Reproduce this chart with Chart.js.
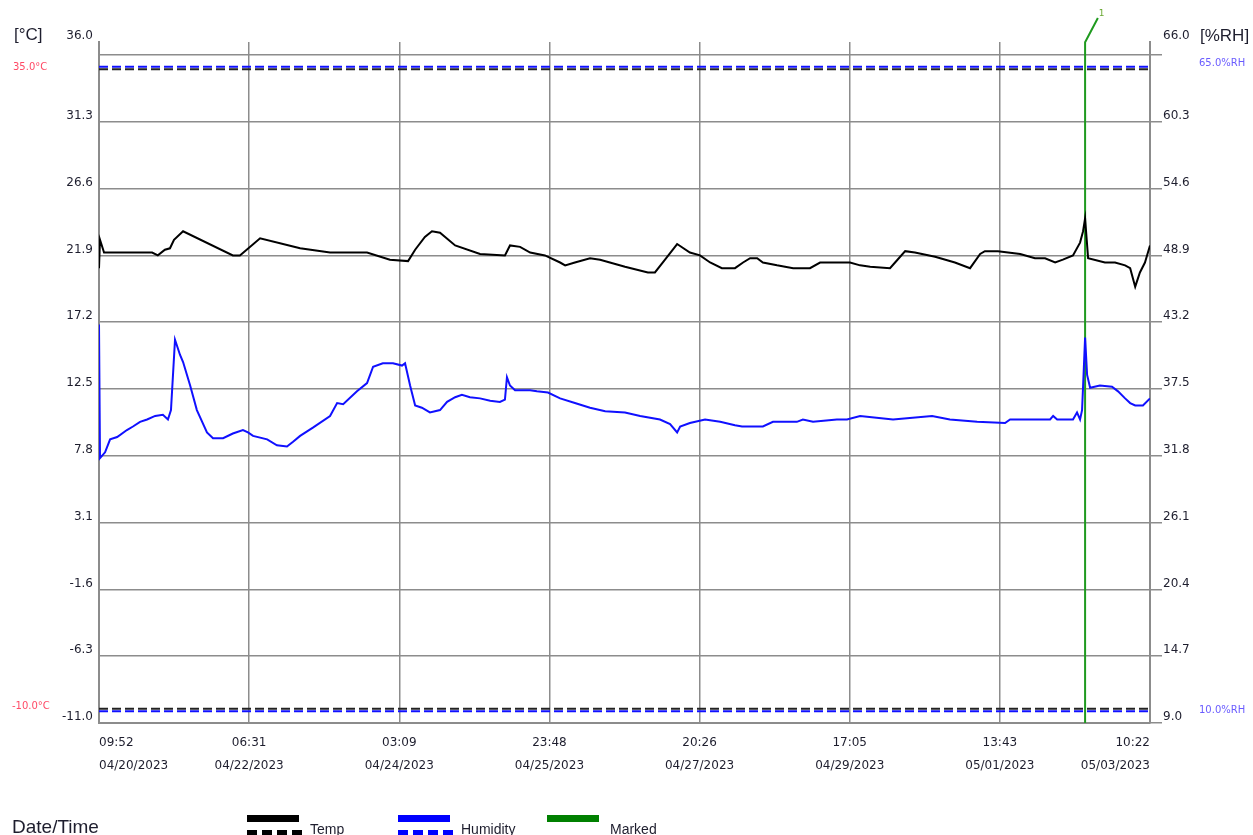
<!DOCTYPE html>
<html>
<head>
<meta charset="utf-8">
<script src="https://cdn.jsdelivr.net/npm/chart.js@4.4.0/dist/chart.umd.min.js"></script>
<style>
  html, body { margin: 0; padding: 0; background: #fff; }
  #wrap { width: 1253px; height: 835px; position: relative; }
</style>
</head>
<body>
<div id="wrap"><canvas id="loggerChart"></canvas></div>
<script>
// hours since 04/20/2023 09:52 (end 05/03/2023 10:22)
const totalHours = 312.5;

const tempHours = [0, 0.3, 1.5, 15.8, 17.5, 19.6, 21.1, 22.3, 25.0, 39.8, 41.9, 47.9, 59.8, 68.7, 71.7,
  79.7, 86.5, 91.9, 94.0, 96.9, 99.0, 101.4, 105.9, 113.3, 120.7, 122.2, 125.2, 128.2, 132.6, 137.1,
  138.6, 141.5, 146.0, 149.0, 156.4, 163.2, 165.3, 168.3, 171.9, 175.7, 178.7, 181.7, 185.2, 189.1,
  191.5, 193.6, 195.7, 197.4, 201.6, 206.4, 211.4, 214.4, 223.3, 226.3, 229.3, 235.2, 236.7, 239.7,
  242.6, 248.6, 254.5, 259.0, 262.0, 263.4, 267.3, 273.9, 278.3, 281.3, 284.3, 286.6, 289.6, 291.7,
  292.6, 293.2, 294.1, 299.1, 302.1, 305.1, 306.6, 308.1, 309.5, 311.0, 312.5];
const tempValues = [21.0, 23.0, 22.1, 22.1, 21.9, 22.3, 22.4, 23.0, 23.6, 21.9, 21.9, 23.1, 22.4, 22.1, 22.1,
  22.1, 21.6, 21.5, 22.3, 23.2, 23.6, 23.5, 22.6, 22.0, 21.9, 22.6, 22.5, 22.1, 21.9, 21.4,
  21.2, 21.4, 21.7, 21.6, 21.1, 20.7, 20.7, 21.6, 22.7, 22.1, 21.9, 21.4, 21.0, 21.0,
  21.4, 21.7, 21.7, 21.4, 21.2, 21.0, 21.0, 21.4, 21.4, 21.2, 21.1, 21.0, 21.4, 22.2,
  22.1, 21.8, 21.4, 21.0, 22.0, 22.2, 22.2, 22.0, 21.7, 21.7, 21.4, 21.6, 21.9, 22.8,
  23.6, 24.5, 21.7, 21.4, 21.4, 21.2, 21.0, 19.7, 20.7, 21.4, 22.6];

const humHours = [0, 0.3, 1.8, 3.3, 5.4, 8.3, 10.1, 12.2, 14.3, 16.7, 19.0, 20.5, 21.4, 22.6, 24.1, 25.0,
  27.1, 29.1, 32.1, 33.9, 36.9, 39.8, 42.8, 44.3, 45.8, 50.0, 52.9, 55.9, 57.7, 59.8, 63.6, 68.7,
  70.8, 72.6, 76.7, 79.7, 81.5, 84.4, 87.4, 90.1, 91.0, 92.5, 94.0, 96.0, 98.4, 101.4, 103.5,
  105.9, 107.9, 110.3, 113.3, 116.3, 119.2, 120.7, 121.3, 122.2, 123.7, 128.2, 130.2, 133.5,
  137.1, 141.5, 146.0, 150.5, 156.4, 160.9, 166.8, 169.8, 171.9, 172.8, 175.7, 180.2, 184.7,
  189.1, 191.2, 197.4, 200.4, 207.5, 209.3, 212.3, 219.4, 222.4, 226.3, 236.1, 247.7, 253.0,
  261.1, 269.4, 270.9, 282.8, 283.7, 284.9, 289.6, 290.8, 291.7, 292.3, 292.6, 293.2, 293.8,
  294.7, 297.6, 301.2, 303.0, 305.1, 306.6, 308.1, 310.4, 312.5];
const humValues = [43.0, 31.6, 32.1, 33.2, 33.4, 34.0, 34.3, 34.7, 34.9, 35.2, 35.3, 34.9, 35.7, 41.7, 40.4, 39.8,
  37.8, 35.7, 33.8, 33.3, 33.3, 33.7, 34.0, 33.8, 33.5, 33.2, 32.7, 32.6, 33.0, 33.5, 34.2, 35.2,
  36.3, 36.2, 37.3, 38.0, 39.4, 39.7, 39.7, 39.5, 39.7, 37.8, 36.1, 35.9, 35.5, 35.7, 36.4,
  36.8, 37.0, 36.8, 36.7, 36.5, 36.4, 36.6, 38.5, 37.8, 37.4, 37.4, 37.3, 37.2,
  36.7, 36.3, 35.9, 35.6, 35.5, 35.2, 34.9, 34.5, 33.8, 34.3, 34.6, 34.9, 34.7,
  34.4, 34.3, 34.3, 34.7, 34.7, 34.9, 34.7, 34.9, 34.9, 35.2, 34.9, 35.2, 34.9,
  34.7, 34.6, 34.9, 34.9, 35.2, 34.9, 34.9, 35.5, 34.9, 35.7, 37.7, 41.9, 38.7,
  37.6, 37.8, 37.7, 37.3, 36.7, 36.3, 36.1, 36.1, 36.7];

const tickTimes = ["09:52", "06:31", "03:09", "23:48", "20:26", "17:05", "13:43", "10:22"];
const tickDates = ["04/20/2023", "04/22/2023", "04/24/2023", "04/25/2023", "04/27/2023", "04/29/2023", "05/01/2023", "05/03/2023"];
const tempTicks = [-11.0, -6.3, -1.6, 3.1, 7.8, 12.5, 17.2, 21.9, 26.6, 31.3, 36.0];
const humTicks = [9.0, 14.7, 20.4, 26.1, 31.8, 37.5, 43.2, 48.9, 54.6, 60.3, 66.0];
const tempLimits = [35.0, -10.0];
const humLimits = [65.0, 10.0];

// marker: vertical line then the small flag stroke above the plot
const markerHours = [293.2, 293.2, 297.0];
const markerTemps = [-11.0, 36.9, 38.6];

// axes extend a little above the top grid line
const plotHeight = 681, headRoom = 13;
const tempMin = tempTicks[0], tempTop = tempTicks[tempTicks.length - 1];
const humMin = humTicks[0], humTop = humTicks[humTicks.length - 1];
const tempMax = tempTop + (tempTop - tempMin) * headRoom / (plotHeight - headRoom);
const humMax = humTop + (humTop - humMin) * headRoom / (plotHeight - headRoom);

const gridColor = "#8c8c8c";
const textColor = "#1e1e2e";

function pairs(xs, ys) {
  return xs.map((x, i) => ({ x: x, y: ys[i] }));
}
function flat(v) {
  return [{ x: 0, y: v }, { x: totalHours, y: v }];
}

const extrasPlugin = {
  id: "extras",
  afterDraw(chart) {
    const ctx = chart.ctx;
    const yT = chart.scales.y;
    const yH = chart.scales.y2;
    ctx.save();

    ctx.font = '17px "Liberation Sans", Arial, sans-serif';
    ctx.fillStyle = textColor;
    ctx.textBaseline = "middle";
    ctx.textAlign = "left";
    ctx.fillText("[°C]", 14, 35);
    ctx.fillText("[%RH]", 1200, 36);

    ctx.font = '10px "DejaVu Sans", sans-serif';
    ctx.fillStyle = "#ff4a66";
    ctx.fillText(tempLimits[0].toFixed(1) + "°C", 13, yT.getPixelForValue(tempLimits[0]) - 2);
    ctx.fillText(tempLimits[1].toFixed(1) + "°C", 12, yT.getPixelForValue(tempLimits[1]) - 2);
    ctx.fillStyle = "#6a5cff";
    ctx.fillText(humLimits[0].toFixed(1) + "%RH", 1199, yH.getPixelForValue(humLimits[0]) - 3);
    ctx.fillText(humLimits[1].toFixed(1) + "%RH", 1199, yH.getPixelForValue(humLimits[1]) - 1);

    // marker number
    const last = markerHours.length - 1;
    ctx.font = '9px "DejaVu Sans", sans-serif';
    ctx.fillStyle = "#6aa832";
    ctx.fillText("1", chart.scales.x.getPixelForValue(markerHours[last]) + 1, yT.getPixelForValue(markerTemps[last]) - 4);

    // bottom legend
    ctx.font = '19px "Liberation Sans", Arial, sans-serif';
    ctx.fillStyle = textColor;
    ctx.textBaseline = "alphabetic";
    ctx.fillText("Date/Time", 12, 833);

    const items = [
      { x: 247, color: "#000000", label: "Temp", lx: 310, dashed: true },
      { x: 398, color: "#0000ff", label: "Humidity", lx: 461, dashed: true },
      { x: 547, color: "#008000", label: "Marked", lx: 610, dashed: false }
    ];
    items.forEach((it) => {
      ctx.fillStyle = it.color;
      ctx.fillRect(it.x, 815, 52, 7);
      if (it.dashed) {
        for (let k = 0; k < 4; k++) {
          ctx.fillRect(it.x + k * 15, 830, 10, 8);
        }
      }
      ctx.font = '14px "Liberation Sans", Arial, sans-serif';
      ctx.fillStyle = textColor;
      ctx.fillText(it.label, it.lx, 834);
    });
    ctx.restore();
  }
};

new Chart(document.getElementById("loggerChart"), {
  type: "line",
  data: {
    datasets: [
      { label: "Temp", data: pairs(tempHours, tempValues), yAxisID: "y", borderColor: "#000000", borderWidth: 2 },
      { label: "Humidity", data: pairs(humHours, humValues), yAxisID: "y2", borderColor: "#1010ff", borderWidth: 2 },
      { label: "Temp high", data: flat(tempLimits[0]), yAxisID: "y", borderColor: "#222222", borderWidth: 2, borderDash: [9, 4] },
      { label: "Temp low", data: flat(tempLimits[1]), yAxisID: "y", borderColor: "#222222", borderWidth: 2, borderDash: [9, 4] },
      { label: "Hum high", data: flat(humLimits[0]), yAxisID: "y2", borderColor: "#1010ff", borderWidth: 2, borderDash: [9, 4] },
      { label: "Hum low", data: flat(humLimits[1]), yAxisID: "y2", borderColor: "#1010ff", borderWidth: 2, borderDash: [9, 4] },
      { label: "Marked", data: pairs(markerHours, markerTemps), yAxisID: "y", borderColor: "#1f9a1f", borderWidth: 2, clip: false }
    ]
  },
  options: {
    responsive: true,
    maintainAspectRatio: false,
    animation: false,
    events: [],
    layout: { padding: { top: 42, left: 0, right: 0, bottom: 0 } },
    elements: { point: { radius: 0 }, line: { tension: 0 } },
    plugins: { legend: { display: false }, tooltip: { enabled: false } },
    scales: {
      x: {
        type: "linear",
        min: 0,
        max: totalHours,
        afterBuildTicks: (s) => {
          s.ticks = tickTimes.map((t, i) => ({ value: i * totalHours / (tickTimes.length - 1) }));
        },
        afterFit: (s) => { s.height = 112; },
        grid: { color: gridColor, lineWidth: 1.5, drawTicks: false },
        border: { color: gridColor, width: 2 },
        ticks: {
          autoSkip: false,
          maxRotation: 0,
          align: "inner",
          padding: 8,
          color: textColor,
          font: { family: "DejaVu Sans", size: 12, lineHeight: 1.92 },
          callback: (v, i) => [tickTimes[i], tickDates[i]]
        }
      },
      y: {
        position: "left",
        min: tempMin,
        max: tempMax,
        afterBuildTicks: (s) => {
          s.ticks = tempTicks.concat([tempMax]).map((v) => ({ value: v }));
        },
        afterFit: (s) => { s.width = 99; },
        grid: {
          color: (c) => (c.tick && c.tick.value === tempMax ? "rgba(0,0,0,0)" : gridColor),
          lineWidth: 1.5,
          drawTicks: false
        },
        border: { color: gridColor, width: 2 },
        ticks: {
          autoSkip: false,
          padding: 6,
          labelOffset: -6,
          color: textColor,
          font: { family: "DejaVu Sans", size: 12 },
          callback: (v) => (v === tempMax ? tempTop.toFixed(1) : v === tempTop ? "" : v.toFixed(1))
        }
      },
      y2: {
        position: "right",
        min: humMin,
        max: humMax,
        afterBuildTicks: (s) => {
          s.ticks = humTicks.concat([humMax]).map((v) => ({ value: v }));
        },
        afterFit: (s) => { s.width = 103; },
        grid: {
          drawOnChartArea: false,
          tickLength: 12,
          lineWidth: 1.5,
          color: (c) => (c.tick && c.tick.value === humMax ? "rgba(0,0,0,0)" : gridColor)
        },
        border: { color: gridColor, width: 2 },
        ticks: {
          autoSkip: false,
          padding: 1,
          labelOffset: -6,
          color: textColor,
          font: { family: "DejaVu Sans", size: 12 },
          callback: (v) => (v === humMax ? humTop.toFixed(1) : v === humTop ? "" : v.toFixed(1))
        }
      }
    }
  },
  plugins: [extrasPlugin]
});
</script>
</body>
</html>
